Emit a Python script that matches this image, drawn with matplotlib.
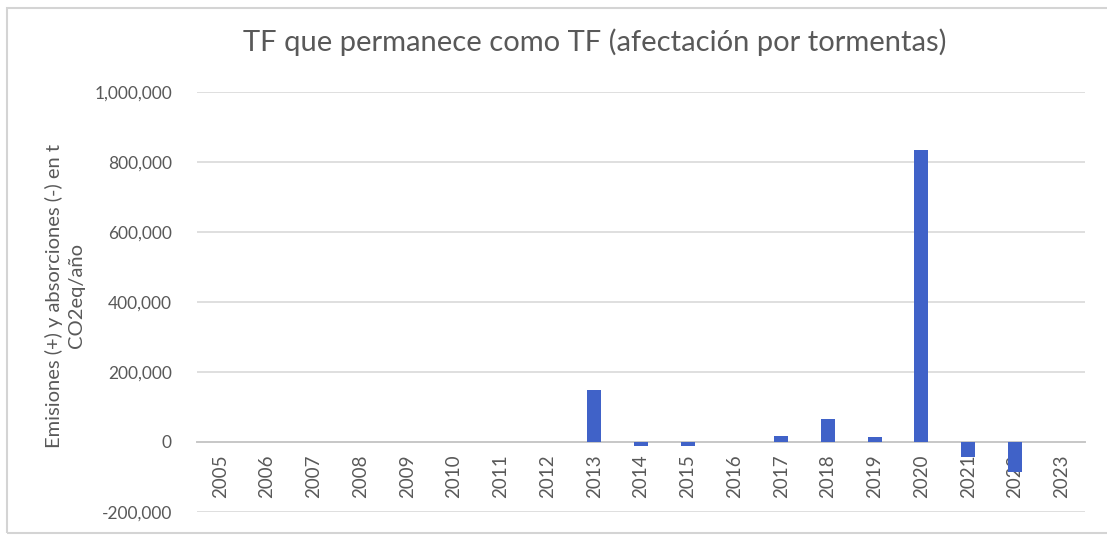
import matplotlib
matplotlib.use("Agg")
import matplotlib.pyplot as plt
from matplotlib.patches import Rectangle
from matplotlib.ticker import FuncFormatter

years = [str(y) for y in range(2005, 2024)]
values = [0, 0, 0, 0, 0, 0, 0, 0, 150000, -10000, -10000, 0, 16000, 67000,
          13000, 834000, -43000, -85000, 0]
yticks = [-200000, 0, 200000, 400000, 600000, 800000, 1000000]

title = "TF que permanece como TF (afectación por tormentas)"
ylabel = "Emisiones (+) y absorciones (-) en t\nCO2eq/año"

plt.rcParams['font.family'] = ['Lato', 'DejaVu Sans']
W, H = 1107, 536
fig = plt.figure(figsize=(W / 100, H / 100), dpi=100)
fig.patch.set_facecolor('white')

# outer chart frame
fig.patches.append(Rectangle((7 / W, 1 - 533 / H), 1.2, (533 - 8) / H,
                             transform=fig.transFigure, fill=False,
                             edgecolor='#d4d4d4', linewidth=1.5))

ax = fig.add_axes([197 / W, 1 - 512 / H, (1085 - 197) / W, (512 - 92) / H])
x = list(range(len(years)))
ax.bar(x, values, width=0.3, color='#4062C8', zorder=3)
ax.set_xlim(-0.5, len(years) - 0.5)
ax.set_ylim(-200000, 1000000)
ax.set_yticks(yticks)
ax.yaxis.set_major_formatter(FuncFormatter(lambda v, p: f"{int(v):,}"))
ax.grid(axis='y', color='#d9d9d9', linewidth=1.2, zorder=0)
ax.set_axisbelow(True)
for s in ['top', 'right', 'left']:
    ax.spines[s].set_visible(False)
ax.spines['bottom'].set_position(('data', 0))
ax.spines['bottom'].set_color('#c8c8c8')
ax.spines['bottom'].set_linewidth(1.4)
ax.spines['bottom'].set_zorder(2)
ax.set_xticks(x)
ax.set_xticklabels(years, rotation=90)
ax.tick_params(axis='x', length=0, pad=9, labelsize=13.5, labelcolor='#595959')
ax.tick_params(axis='y', length=0, pad=18, labelsize=12.5, labelcolor='#595959')
ax.set_ylabel(ylabel, fontsize=14.5, color='#595959', linespacing=1.35,
              multialignment='center')
ax.yaxis.set_label_coords(85 / W, 1 - 296 / H, transform=fig.transFigure)

fig.text(595 / W, 1 - 42 / H, title, ha='center', va='center', fontsize=21,
         color='#595959')

fig.savefig('out.png', dpi=100)
